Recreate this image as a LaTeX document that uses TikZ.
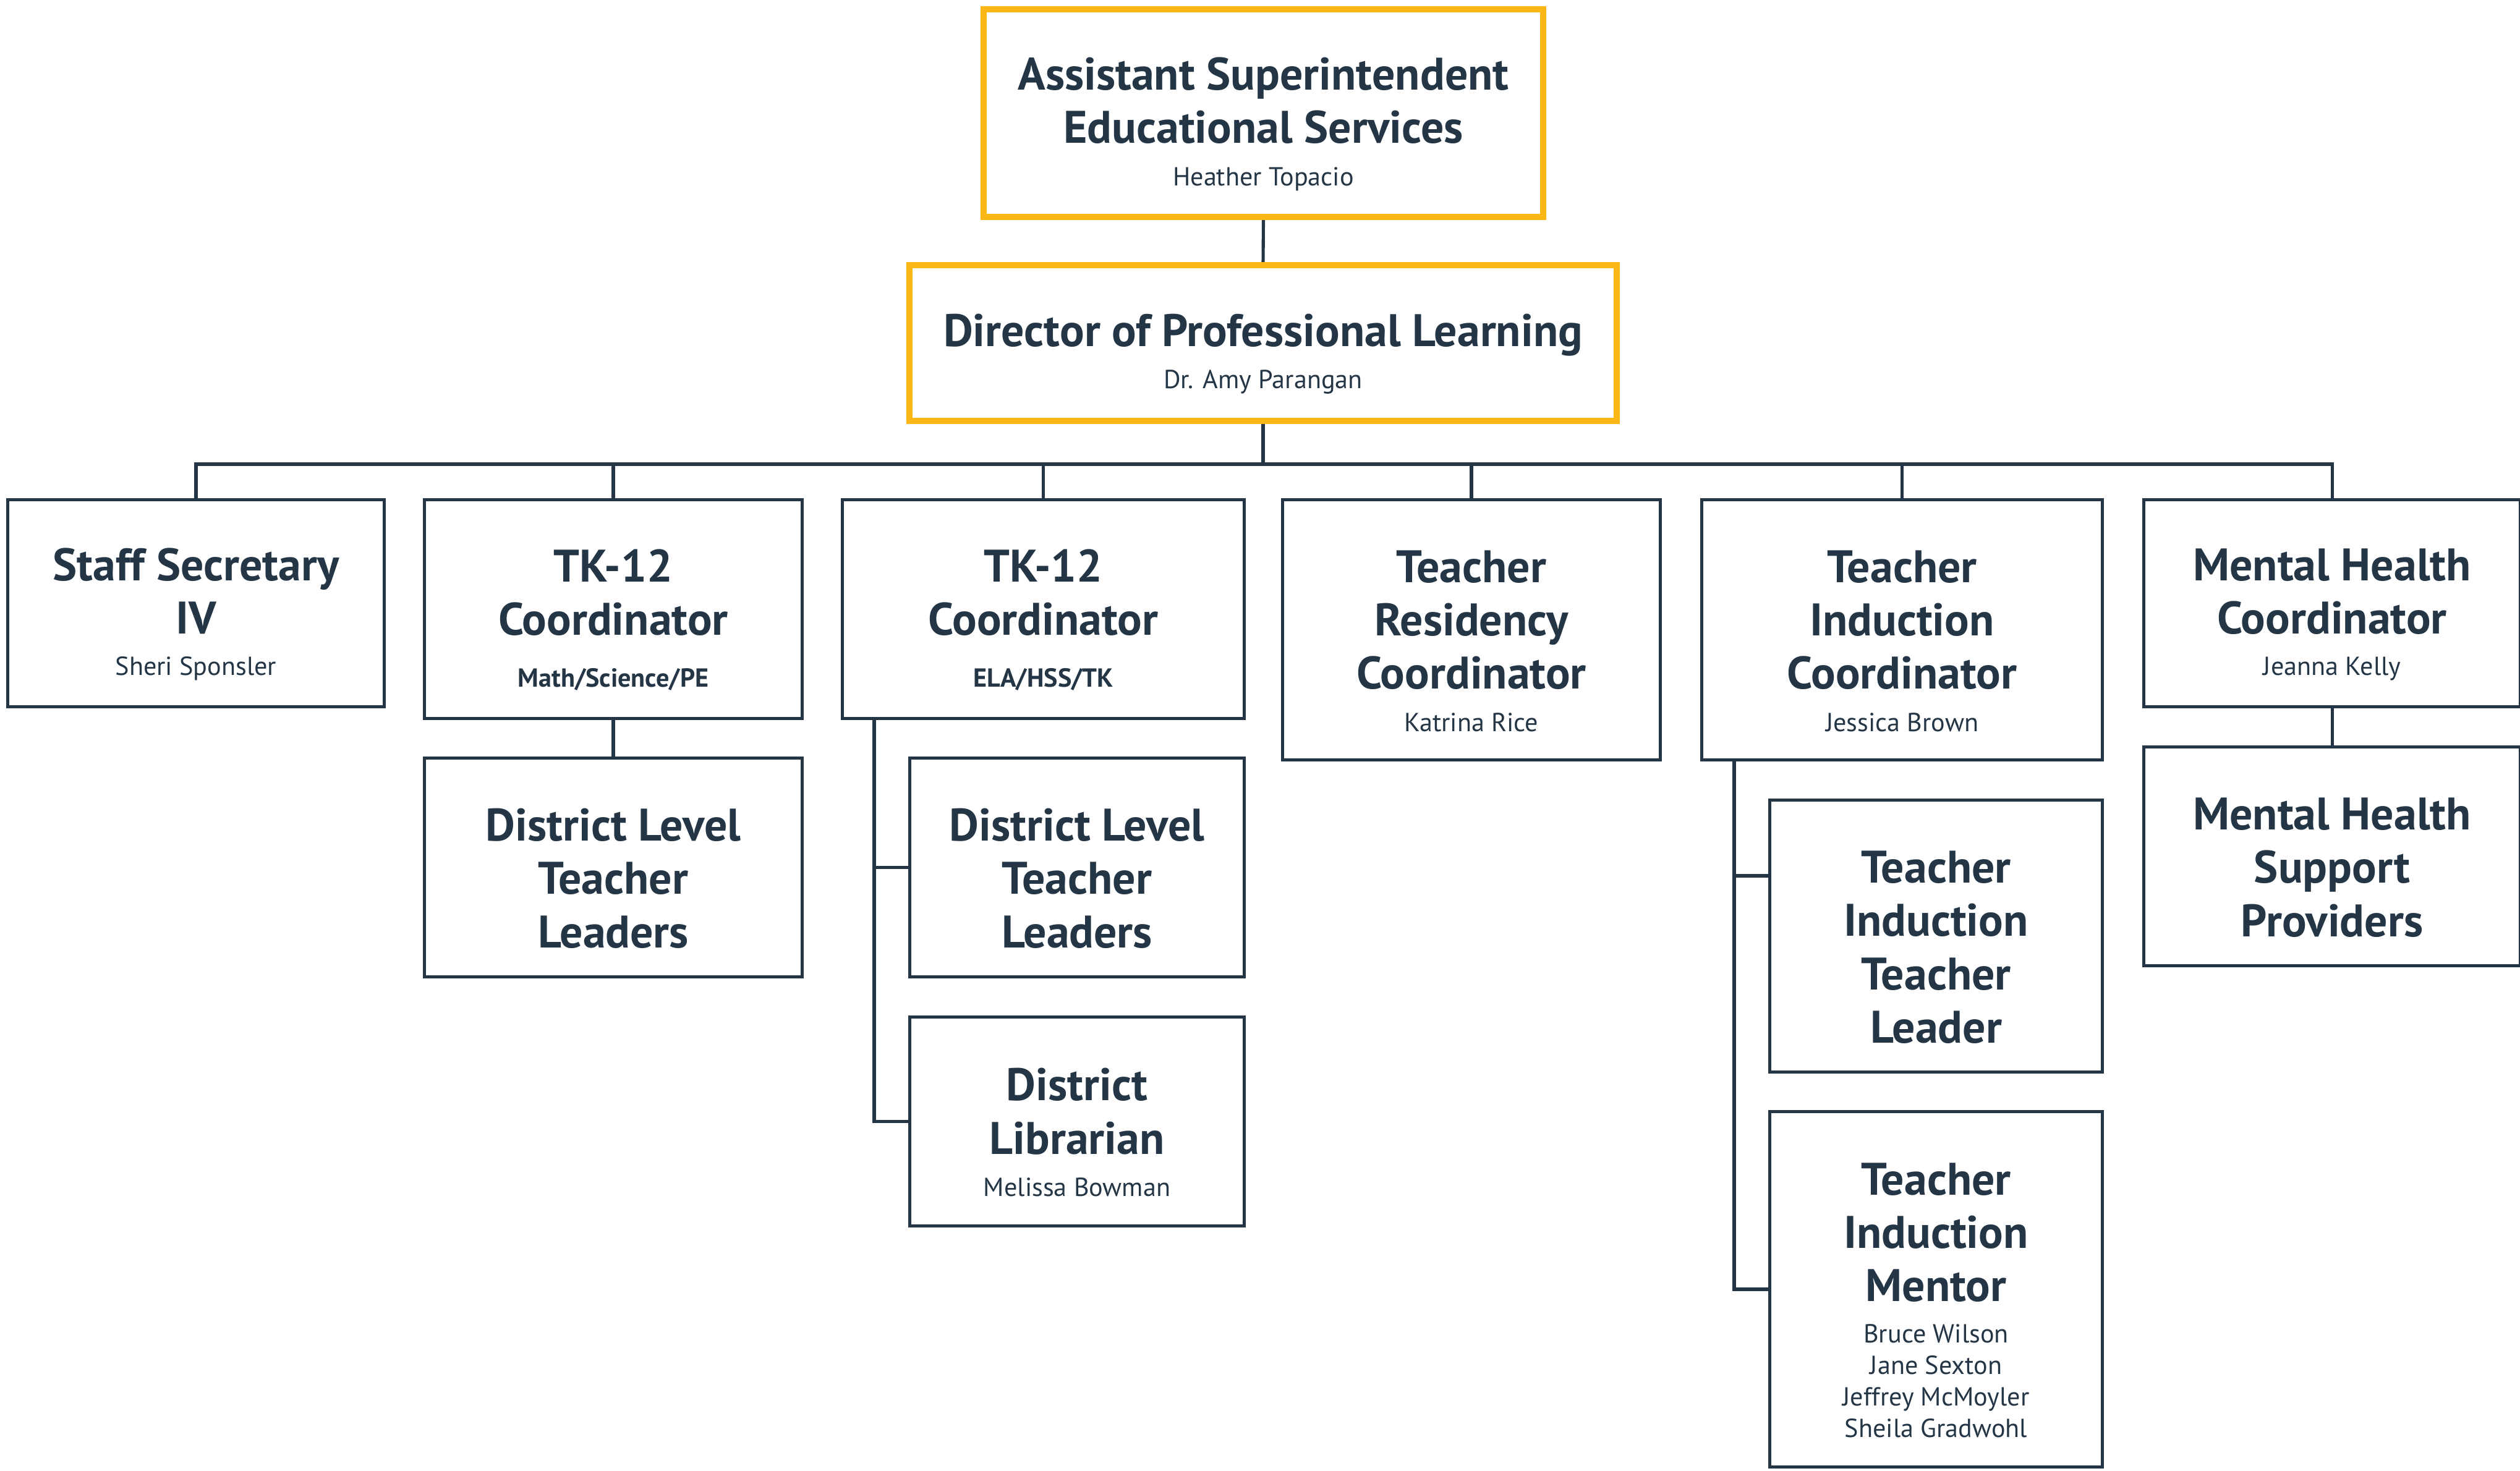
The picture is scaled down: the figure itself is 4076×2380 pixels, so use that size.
\documentclass[tikz,border=0pt]{standalone}
\usepackage{fontspec}
\setmainfont{PT Sans}
\definecolor{navy}{HTML}{243646}
\definecolor{gold}{HTML}{FBB715}
\begin{document}
\begin{tikzpicture}[x=0.01cm,y=-0.01cm,
  box/.style={draw=navy,line width=1.45pt,fill=white,inner sep=0pt,align=center,
    text=navy,font=\fontsize{21}{24.5}\selectfont\bfseries},
  lead/.style={box,draw=gold,line width=2.85pt},
  link/.style={draw=navy,line width=1.45pt}]
\newcommand{\nmtext}[1]{{\fontsize{12}{14.5}\selectfont\mdseries #1}}
\newcommand{\sbtext}[1]{{\fontsize{12}{14.5}\selectfont\bfseries #1}}
\newcommand{\tp}{\rule{0pt}{25pt}}
\useasboundingbox (0,0) rectangle (4076,2380);
\fill[white] (0,0) rectangle (4076,2380);

\node[lead,minimum width=9.05cm,minimum height=3.36cm] (A) at (2043.5,183)
  {\tp Assistant Superintendent\\Educational Services\\[-5pt]\nmtext{Heather Topacio}};
\node[lead,minimum width=11.44cm,minimum height=2.52cm] (B) at (2043,555)
  {\tp Director of Professional Learning\\[-5pt]\nmtext{Dr. Amy Parangan}};

\node[box,minimum width=6.09cm,minimum height=3.35cm] (b1) at (317,976)
  {\tp Staff Secretary\\IV\\[-5.5pt]\nmtext{Sheri Sponsler}};
\node[box,minimum width=6.11cm,minimum height=3.54cm] (b2) at (992,985.5)
  {\tp TK-12\\Coordinator\\[-0.5pt]\sbtext{Math/Science/PE}};
\node[box,minimum width=6.50cm,minimum height=3.54cm] (b3) at (1687.5,985.5)
  {\tp TK-12\\Coordinator\\[-0.5pt]\sbtext{ELA/HSS/TK}};
\node[box,minimum width=6.11cm,minimum height=4.21cm] (b4) at (2380,1019)
  {\tp Teacher\\Residency\\Coordinator\\[-5pt]\nmtext{Katrina Rice}};
\node[box,minimum width=6.48cm,minimum height=4.21cm] (b5) at (3076.5,1019)
  {\tp Teacher\\Induction\\Coordinator\\[-5pt]\nmtext{Jessica Brown}};
\node[box,minimum width=6.09cm,minimum height=3.35cm] (b6) at (3772,976)
  {\tp Mental Health\\Coordinator\\[-5.5pt]\nmtext{Jeanna Kelly}};

\node[box,minimum width=6.11cm,minimum height=3.54cm] (b2b) at (992,1403.5)
  {\tp District Level\\Teacher\\Leaders};
\node[box,minimum width=5.41cm,minimum height=3.54cm] (b3b) at (1742,1403.5)
  {\tp District Level\\Teacher\\Leaders};
\node[box,minimum width=5.41cm,minimum height=3.38cm] (b3c) at (1742,1814.5)
  {\tp District\\Librarian\\[-5pt]\nmtext{Melissa Bowman}};
\node[box,minimum width=5.38cm,minimum height=4.40cm] (b5b) at (3131.5,1514.5)
  {\tp Teacher\\Induction\\Teacher\\Leader};
\node[box,minimum width=5.38cm,minimum height=5.75cm] (b5c) at (3131.5,2086)
  {\tp Teacher\\Induction\\Mentor\\[-5.5pt]\nmtext{Bruce Wilson}\\[-10pt]\nmtext{Jane Sexton}\\[-10pt]\nmtext{Jeffrey McMoyler}\\[-10pt]\nmtext{Sheila Gradwohl}};
\node[box,minimum width=6.09cm,minimum height=3.54cm] (b6b) at (3772,1385.5)
  {\tp Mental Health\\Support\\Providers};

\coordinate (bus) at (2043,751);
\coordinate (r3) at (1414,0);
\coordinate (r5) at (2805,0);
\coordinate (r5b) at (2805,1417);

\draw[link] (A.south) -- (B.north);
\draw[link] (B.south) -- (bus);
\foreach \n in {b1,b2,b3,b4,b5,b6} \draw[link] (\n.north) |- (bus);
\draw[link] (b2.south) -- (b2b.north);
\draw[link] (b6.south) -- (b6b.north);
\draw[link] (b3.south -| r3) |- (b3b.west);
\draw[link] (b3.south -| r3) |- (b3c.west);
\draw[link] (b5.south -| r5) |- (b5c.west);
\draw[link] (r5b) -- (r5b -| b5b.west);
\end{tikzpicture}
\end{document}
